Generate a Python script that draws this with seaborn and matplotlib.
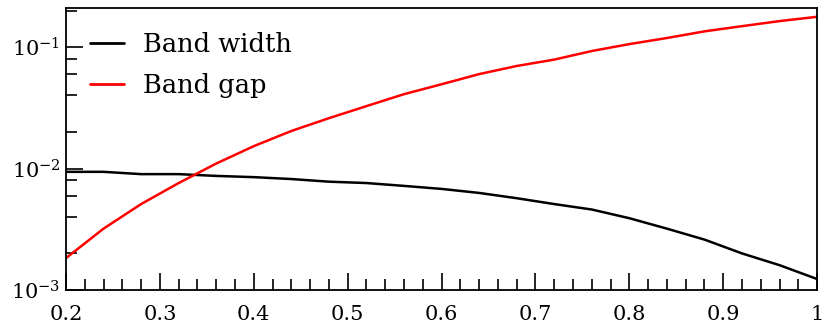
import numpy as np
import pandas as pd
import matplotlib
matplotlib.use("Agg")
import matplotlib.pyplot as plt
import matplotlib.ticker as mticker
import seaborn as sns

# Data
x_vals = [0.20, 0.24, 0.28, 0.32, 0.36, 0.40, 0.44, 0.48, 0.52, 0.56, 0.60,
          0.64, 0.68, 0.72, 0.76, 0.80, 0.84, 0.88, 0.92, 0.96, 1.00]
band_width = [9.4e-3, 9.4e-3, 9.0e-3, 9.0e-3, 8.7e-3, 8.5e-3, 8.2e-3, 7.8e-3,
              7.6e-3, 7.2e-3, 6.8e-3, 6.3e-3, 5.7e-3, 5.1e-3, 4.6e-3, 3.9e-3,
              3.2e-3, 2.6e-3, 2.0e-3, 1.6e-3, 1.23e-3]
band_gap = [1.83e-3, 3.2e-3, 5.1e-3, 7.6e-3, 1.1e-2, 1.53e-2, 2.04e-2, 2.6e-2,
            3.27e-2, 4.1e-2, 4.95e-2, 6.0e-2, 7.0e-2, 7.9e-2, 9.3e-2, 0.106,
            0.119, 0.135, 0.149, 0.164, 0.178]
series_names = ["Band width", "Band gap"]

df = pd.DataFrame({
    "x": x_vals * 2,
    "y": band_width + band_gap,
    "series": [series_names[0]] * len(x_vals) + [series_names[1]] * len(x_vals),
})

sns.set_style("ticks")
plt.rcParams["font.family"] = ["DejaVu Serif"]
plt.rcParams["mathtext.fontset"] = "dejavuserif"
plt.rcParams["text.color"] = "black"

fig = plt.figure(figsize=(8.3, 3.36), dpi=100)
ax = fig.add_axes([0.0795, 0.137, 0.905, 0.839])

sns.lineplot(data=df, x="x", y="y", hue="series",
             palette={"Band width": "black", "Band gap": "#ff0000"},
             linewidth=1.8, ax=ax)

ax.set_yscale("log")
ax.set_xlim(0.2, 1.0)
ax.set_ylim(1e-3, 0.21)
ax.set_xlabel("")
ax.set_ylabel("")

ax.xaxis.set_major_locator(mticker.MultipleLocator(0.1))
ax.xaxis.set_minor_locator(mticker.MultipleLocator(0.02))
ax.xaxis.set_major_formatter(mticker.FuncFormatter(lambda v, p: f"{v:g}"))
ax.yaxis.set_major_locator(mticker.LogLocator(base=10, numticks=10))
ax.yaxis.set_minor_locator(mticker.LogLocator(base=10, subs=[2, 4, 6, 8], numticks=10))
ax.yaxis.set_minor_formatter(mticker.NullFormatter())

ax.tick_params(which="both", direction="in", top=False, right=False,
               labelsize=15, width=1.2, colors="black")
ax.tick_params(which="major", length=12)
ax.tick_params(which="minor", length=8)
ax.tick_params(axis="x", which="major", pad=11)
ax.tick_params(axis="y", which="major", pad=4)

for s in ax.spines.values():
    s.set_visible(True)
    s.set_linewidth(1.3)
    s.set_color("black")

leg = ax.legend(loc="upper left", frameon=False, fontsize=18.5,
                handlelength=1.32, handletextpad=0.74, labelspacing=0.6,
                borderaxespad=0.55, borderpad=0.4)
for line in leg.get_lines():
    line.set_linewidth(2)
for t in leg.get_texts():
    t.set_color("black")

fig.savefig("out.png", dpi=100)
